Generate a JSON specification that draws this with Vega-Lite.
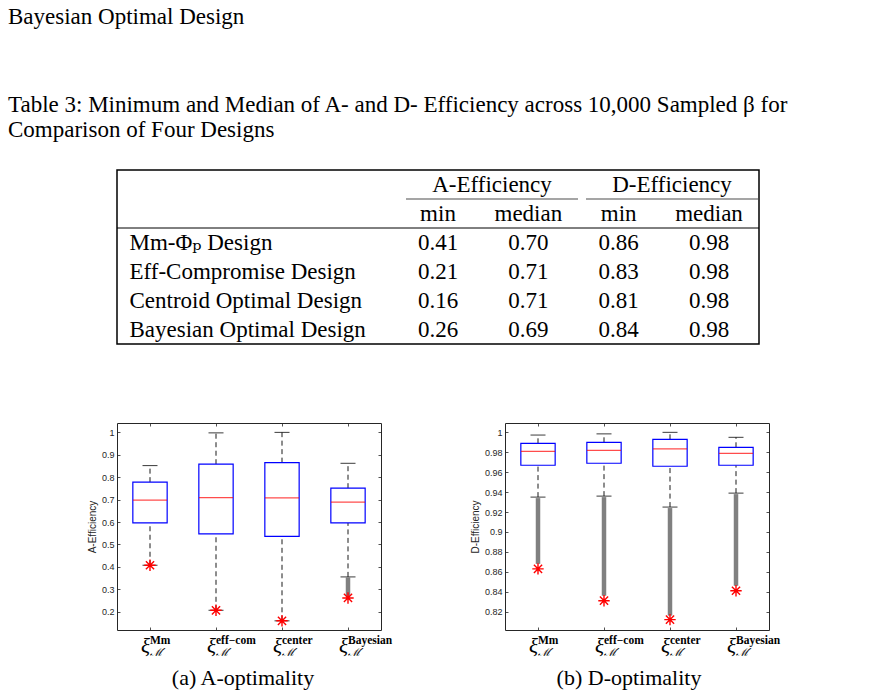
{
  "$schema": "https://vega.github.io/schema/vega-lite/v6.json",
  "padding": {"left": 7, "top": 5, "right": 7, "bottom": 0},
  "background": "white",
  "title": {
    "text": "Bayesian Optimal Design",
    "anchor": "start",
    "frame": "group",
    "dx": -109,
    "baseline": "bottom",
    "font": "Liberation Serif, DejaVu Serif, serif",
    "fontSize": 23,
    "fontWeight": "normal",
    "color": "black",
    "offset": 41
  },
  "datasets": {
    "table": [
      {"design": "Mm-Φₚ Design", "Amin": 0.41, "Amed": 0.70, "Dmin": 0.86, "Dmed": 0.98},
      {"design": "Eff-Compromise Design", "Amin": 0.21, "Amed": 0.71, "Dmin": 0.83, "Dmed": 0.98},
      {"design": "Centroid Optimal Design", "Amin": 0.16, "Amed": 0.71, "Dmin": 0.81, "Dmed": 0.98},
      {"design": "Bayesian Optimal Design", "Amin": 0.26, "Amed": 0.69, "Dmin": 0.84, "Dmed": 0.98}
    ],
    "tableColumns": [
      {"measure": "Amin", "label": "min"},
      {"measure": "Amed", "label": "median"},
      {"measure": "Dmin", "label": "min"},
      {"measure": "Dmed", "label": "median"}
    ],
    "tableGroups": [
      {"group": "A-Efficiency"},
      {"group": "D-Efficiency"}
    ],
    "aEff": [
      {"design": "Mm", "lo": 0.407, "q1": 0.596, "med": 0.698, "q3": 0.778, "hi": 0.852, "outLo": null, "outHi": null, "min": 0.407},
      {"design": "eff−com", "lo": 0.206, "q1": 0.547, "med": 0.709, "q3": 0.858, "hi": 0.998, "outLo": null, "outHi": null, "min": 0.206},
      {"design": "center", "lo": 0.159, "q1": 0.536, "med": 0.708, "q3": 0.865, "hi": 1.0, "outLo": null, "outHi": null, "min": 0.159},
      {"design": "Bayesian", "lo": 0.355, "q1": 0.596, "med": 0.689, "q3": 0.751, "hi": 0.862, "outLo": 0.27, "outHi": 0.352, "min": 0.261}
    ],
    "dEff": [
      {"design": "Mm", "lo": 0.935, "q1": 0.967, "med": 0.981, "q3": 0.989, "hi": 0.9973, "outLo": 0.868, "outHi": 0.934, "min": 0.863},
      {"design": "eff−com", "lo": 0.936, "q1": 0.969, "med": 0.982, "q3": 0.990, "hi": 0.9985, "outLo": 0.836, "outHi": 0.935, "min": 0.831},
      {"design": "center", "lo": 0.925, "q1": 0.966, "med": 0.9835, "q3": 0.993, "hi": 1.0, "outLo": 0.816, "outHi": 0.924, "min": 0.812},
      {"design": "Bayesian", "lo": 0.939, "q1": 0.967, "med": 0.979, "q3": 0.985, "hi": 0.995, "outLo": 0.846, "outHi": 0.938, "min": 0.841}
    ]
  },
  "spacing": 77,
  "vconcat": [
    {
      "width": 642,
      "height": 174,
      "view": {"stroke": "black", "strokeWidth": 1.5},
      "title": {
        "text": ["Table 3: Minimum and Median of A- and D- Efficiency across 10,000 Sampled β for", "Comparison of Four Designs"],
        "anchor": "start",
        "frame": "group",
        "dx": -109,
        "baseline": "bottom",
        "lineHeight": 25.5,
        "font": "Liberation Serif, DejaVu Serif, serif",
        "fontSize": 23,
        "fontWeight": "normal",
        "color": "black",
        "offset": 5
      },
      "layer": [
        {
          "data": {"name": "table"},
          "transform": [{"fold": ["Amin", "Amed", "Dmin", "Dmed"], "as": ["measure", "v"]}],
          "mark": {"type": "text", "baseline": "middle", "font": "Liberation Serif, DejaVu Serif, serif", "fontSize": 23, "color": "black"},
          "encoding": {
            "x": {"field": "measure", "type": "nominal", "scale": {"type": "point", "domain": ["Amin", "Amed", "Dmin", "Dmed"], "range": [321, 592], "padding": 0}, "axis": null},
            "y": {
              "field": "design", "type": "nominal",
              "scale": {"type": "point", "padding": 1, "domain": ["h1", "mid1", "h2", "mid2", "Mm-Φₚ Design", "g1", "Eff-Compromise Design", "g2", "Centroid Optimal Design", "g3", "Bayesian Optimal Design"]},
              "axis": {"orient": "left", "title": null, "domain": false, "ticks": false, "tickSize": 0, "minExtent": 0, "labelOverlap": false, "labelAlign": "left", "labelPadding": -12, "labelBaseline": "middle", "labelLimit": 400, "labelFont": "Liberation Serif, DejaVu Serif, serif", "labelFontSize": 23, "labelColor": "black", "labelExpr": "length(datum.value) < 5 ? '' : datum.value"}
            },
            "text": {"field": "v", "type": "quantitative", "format": ".2f"}
          }
        },
        {
          "data": {"name": "tableColumns"},
          "mark": {"type": "text", "baseline": "middle", "font": "Liberation Serif, DejaVu Serif, serif", "fontSize": 23, "color": "black"},
          "encoding": {
            "x": {"field": "measure", "type": "nominal", "scale": {"type": "point", "domain": ["Amin", "Amed", "Dmin", "Dmed"], "range": [321, 592], "padding": 0}, "axis": null},
            "y": {"datum": "h2", "type": "nominal"},
            "text": {"field": "label"}
          }
        },
        {
          "data": {"name": "tableGroups"},
          "mark": {"type": "text", "baseline": "middle", "font": "Liberation Serif, DejaVu Serif, serif", "fontSize": 23, "color": "black"},
          "encoding": {
            "x": {"field": "group", "type": "nominal", "scale": {"type": "point", "domain": ["A-Efficiency", "D-Efficiency"], "range": [375, 555], "padding": 0}, "axis": null},
            "y": {"datum": "h1", "type": "nominal"},
            "text": {"field": "group"}
          }
        },
        {
          "data": {"name": "tableGroups"},
          "mark": {"type": "tick", "orient": "horizontal", "size": 172, "thickness": 1, "color": "black"},
          "encoding": {
            "x": {"field": "group", "type": "nominal", "scale": {"type": "point", "domain": ["A-Efficiency", "D-Efficiency"], "range": [375, 555], "padding": 0}, "axis": null},
            "y": {"datum": "mid1", "type": "nominal"}
          }
        },
        {
          "data": {"values": [{}]},
          "mark": {"type": "rule", "color": "black", "strokeWidth": 1},
          "encoding": {
            "y": {"datum": "mid2", "type": "nominal"}
          }
        }
      ],
      "resolve": {"scale": {"x": "independent"}}
    },
    {
      "spacing": 62,
      "hconcat": [
        {
          "width": 264,
          "height": 207,
          "view": {"stroke": "#262626", "strokeWidth": 1},
          "title": {"text": "(a) A-optimality", "orient": "bottom", "anchor": "middle", "frame": "group", "font": "Liberation Serif, DejaVu Serif, serif", "fontSize": 22, "fontWeight": "normal", "color": "black", "offset": 11, "dx": -6},
          "data": {"name": "aEff"},
          "layer": [
            {
              "mark": {"type": "rule", "color": "#808080", "strokeWidth": 4.5},
              "encoding": {
                "x": {"field": "design", "type": "nominal", "scale": {"type": "band", "domain": ["Mm", "eff−com", "center", "Bayesian"], "paddingInner": 0, "paddingOuter": 0}, "axis": null},
                "y": {"field": "outLo", "type": "quantitative", "scale": {"domain": [0.118, 1.042], "nice": false, "zero": false}, "axis": null},
                "y2": {"field": "outHi"}
              }
            },
            {
              "mark": {"type": "rule", "color": "black", "strokeWidth": 0.9, "strokeDash": [5, 3.5]},
              "encoding": {
                "x": {"field": "design", "type": "nominal", "scale": {"type": "band", "domain": ["Mm", "eff−com", "center", "Bayesian"], "paddingInner": 0, "paddingOuter": 0},
                  "axis": {"orient": "bottom", "title": null, "domain": false, "ticks": false, "tickSize": 0, "minExtent": 0, "bandPosition": 0.5, "labelAngle": 0, "labelAlign": "left", "labelOverlap": false, "labelFont": "Liberation Serif, DejaVu Serif, serif", "labelFontWeight": "bold", "labelFontSize": 11.5, "labelColor": "black", "labelBaseline": "alphabetic", "labelPadding": 13, "labelDx": -4}},
                "y": {"field": "q3", "type": "quantitative", "scale": {"domain": [0.118, 1.042], "nice": false, "zero": false},
                  "axis": {"orient": "left", "title": null, "domain": false, "labels": false, "ticks": true, "tickSize": -3, "minExtent": 0, "tickColor": "#262626", "tickWidth": 0.8, "grid": false, "values": [0.2, 0.3, 0.4, 0.5, 0.6, 0.7, 0.8, 0.9, 1]}},
                "y2": {"field": "hi"}
              }
            },
            {
              "mark": {"type": "rule", "color": "black", "strokeWidth": 0.9, "strokeDash": [5, 3.5]},
              "encoding": {
                "x": {"field": "design", "type": "nominal", "scale": {"type": "band", "domain": ["Mm", "eff−com", "center", "Bayesian"], "paddingInner": 0, "paddingOuter": 0},
                  "axis": {"orient": "bottom", "title": null, "domain": false, "ticks": false, "tickSize": 0, "minExtent": 0, "bandPosition": 0.5, "labelAngle": 0, "labelAlign": "left", "labelOverlap": false, "labelExpr": "'ℳ′'", "labelFont": "DejaVu Serif, serif", "labelFontStyle": "italic", "labelFontSize": 11, "labelColor": "black", "labelBaseline": "alphabetic", "labelPadding": 25, "labelDx": -4}},
                "y": {"field": "lo", "type": "quantitative", "scale": {"domain": [0.118, 1.042], "nice": false, "zero": false},
                  "axis": {"orient": "right", "title": null, "domain": false, "labels": false, "ticks": true, "tickSize": -3, "minExtent": 15, "tickColor": "#262626", "tickWidth": 0.8, "grid": false, "values": [0.2, 0.3, 0.4, 0.5, 0.6, 0.7, 0.8, 0.9, 1]}},
                "y2": {"field": "q1"}
              }
            },
            {
              "mark": {"type": "tick", "orient": "horizontal", "size": 15, "thickness": 1.1, "color": "black"},
              "encoding": {
                "x": {"field": "design", "type": "nominal", "scale": {"type": "band", "domain": ["Mm", "eff−com", "center", "Bayesian"], "paddingInner": 0, "paddingOuter": 0},
                  "axis": {"orient": "bottom", "title": null, "domain": false, "labels": false, "ticks": true, "tickSize": -3, "minExtent": 0, "tickColor": "#262626", "tickWidth": 0.8, "bandPosition": 0.5}},
                "y": {"field": "hi", "type": "quantitative", "scale": {"domain": [0.118, 1.042], "nice": false, "zero": false}, "axis": null}
              }
            },
            {
              "mark": {"type": "tick", "orient": "horizontal", "size": 15, "thickness": 1.1, "color": "black"},
              "encoding": {
                "x": {"field": "design", "type": "nominal", "scale": {"type": "band", "domain": ["Mm", "eff−com", "center", "Bayesian"], "paddingInner": 0, "paddingOuter": 0},
                  "axis": {"orient": "top", "title": null, "domain": false, "labels": false, "ticks": true, "tickSize": -3, "minExtent": 0, "tickColor": "#262626", "tickWidth": 0.8, "bandPosition": 0.5}},
                "y": {"field": "lo", "type": "quantitative", "scale": {"domain": [0.118, 1.042], "nice": false, "zero": false}, "axis": null}
              }
            },
            {
              "mark": {"type": "bar", "width": {"band": 0.52}, "fill": "white", "stroke": "#0000ff", "strokeWidth": 1.2},
              "encoding": {
                "x": {"field": "design", "type": "nominal", "scale": {"type": "band", "domain": ["Mm", "eff−com", "center", "Bayesian"], "paddingInner": 0, "paddingOuter": 0},
                  "axis": {"orient": "bottom", "title": null, "domain": false, "ticks": false, "tickSize": 0, "minExtent": 0, "bandPosition": 0.5, "labelAngle": 0, "labelAlign": "right", "labelOverlap": false, "labelExpr": "'ξ'", "labelFont": "Liberation Serif, DejaVu Serif, serif", "labelFontStyle": "italic", "labelFontSize": 21, "labelColor": "black", "labelBaseline": "alphabetic", "labelPadding": 22, "labelDx": -4}},
                "y": {"field": "q1", "type": "quantitative", "scale": {"domain": [0.118, 1.042], "nice": false, "zero": false},
                  "axis": {"orient": "left", "title": "A-Efficiency", "domain": false, "ticks": false, "tickSize": 0, "minExtent": 0, "grid": false, "values": [0.2, 0.3, 0.4, 0.5, 0.6, 0.7, 0.8, 0.9, 1], "format": "~g", "labelFont": "Liberation Sans, Arial, sans-serif", "labelFontSize": 9, "labelColor": "#262626", "labelPadding": 3, "titleFont": "Liberation Sans, Arial, sans-serif", "titleFontSize": 10, "titleFontWeight": "normal", "titleColor": "#262626", "titlePadding": 4}},
                "y2": {"field": "q3"}
              }
            },
            {
              "mark": {"type": "tick", "orient": "horizontal", "size": 34, "thickness": 1.2, "color": "#ff0000"},
              "encoding": {
                "x": {"field": "design", "type": "nominal", "scale": {"type": "band", "domain": ["Mm", "eff−com", "center", "Bayesian"], "paddingInner": 0, "paddingOuter": 0}, "axis": null},
                "y": {"field": "med", "type": "quantitative", "scale": {"domain": [0.118, 1.042], "nice": false, "zero": false}, "axis": null}
              }
            },
            {
              "mark": {"type": "point", "shape": "M-1,0L1,0M0,-1L0,1M-0.72,-0.72L0.72,0.72M-0.72,0.72L0.72,-0.72", "size": 130, "filled": false, "stroke": "#ff0000", "strokeWidth": 1.4, "opacity": 1},
              "encoding": {
                "x": {"field": "design", "type": "nominal", "scale": {"type": "band", "domain": ["Mm", "eff−com", "center", "Bayesian"], "paddingInner": 0, "paddingOuter": 0}, "axis": null},
                "y": {"field": "min", "type": "quantitative", "scale": {"domain": [0.118, 1.042], "nice": false, "zero": false}, "axis": null}
              }
            }
          ],
          "resolve": {"axis": {"x": "independent", "y": "independent"}}
        },
        {
          "width": 264,
          "height": 207,
          "view": {"stroke": "#262626", "strokeWidth": 1},
          "title": {"text": "(b) D-optimality", "orient": "bottom", "anchor": "middle", "frame": "group", "font": "Liberation Serif, DejaVu Serif, serif", "fontSize": 22, "fontWeight": "normal", "color": "black", "offset": 11, "dx": -8},
          "data": {"name": "dEff"},
          "layer": [
            {
              "mark": {"type": "rule", "color": "#808080", "strokeWidth": 4.5},
              "encoding": {
                "x": {"field": "design", "type": "nominal", "scale": {"type": "band", "domain": ["Mm", "eff−com", "center", "Bayesian"], "paddingInner": 0, "paddingOuter": 0}, "axis": null},
                "y": {"field": "outLo", "type": "quantitative", "scale": {"domain": [0.8016, 1.0094], "nice": false, "zero": false}, "axis": null},
                "y2": {"field": "outHi"}
              }
            },
            {
              "mark": {"type": "rule", "color": "black", "strokeWidth": 0.9, "strokeDash": [5, 3.5]},
              "encoding": {
                "x": {"field": "design", "type": "nominal", "scale": {"type": "band", "domain": ["Mm", "eff−com", "center", "Bayesian"], "paddingInner": 0, "paddingOuter": 0},
                  "axis": {"orient": "bottom", "title": null, "domain": false, "ticks": false, "tickSize": 0, "minExtent": 0, "bandPosition": 0.5, "labelAngle": 0, "labelAlign": "left", "labelOverlap": false, "labelFont": "Liberation Serif, DejaVu Serif, serif", "labelFontWeight": "bold", "labelFontSize": 11.5, "labelColor": "black", "labelBaseline": "alphabetic", "labelPadding": 13, "labelDx": -4}},
                "y": {"field": "q3", "type": "quantitative", "scale": {"domain": [0.8016, 1.0094], "nice": false, "zero": false},
                  "axis": {"orient": "left", "title": null, "domain": false, "labels": false, "ticks": true, "tickSize": -3, "minExtent": 45, "tickColor": "#262626", "tickWidth": 0.8, "grid": false, "values": [0.82, 0.84, 0.86, 0.88, 0.9, 0.92, 0.94, 0.96, 0.98, 1]}},
                "y2": {"field": "hi"}
              }
            },
            {
              "mark": {"type": "rule", "color": "black", "strokeWidth": 0.9, "strokeDash": [5, 3.5]},
              "encoding": {
                "x": {"field": "design", "type": "nominal", "scale": {"type": "band", "domain": ["Mm", "eff−com", "center", "Bayesian"], "paddingInner": 0, "paddingOuter": 0},
                  "axis": {"orient": "bottom", "title": null, "domain": false, "ticks": false, "tickSize": 0, "minExtent": 0, "bandPosition": 0.5, "labelAngle": 0, "labelAlign": "left", "labelOverlap": false, "labelExpr": "'ℳ′'", "labelFont": "DejaVu Serif, serif", "labelFontStyle": "italic", "labelFontSize": 11, "labelColor": "black", "labelBaseline": "alphabetic", "labelPadding": 25, "labelDx": -4}},
                "y": {"field": "lo", "type": "quantitative", "scale": {"domain": [0.8016, 1.0094], "nice": false, "zero": false},
                  "axis": {"orient": "right", "title": null, "domain": false, "labels": false, "ticks": true, "tickSize": -3, "minExtent": 0, "tickColor": "#262626", "tickWidth": 0.8, "grid": false, "values": [0.82, 0.84, 0.86, 0.88, 0.9, 0.92, 0.94, 0.96, 0.98, 1]}},
                "y2": {"field": "q1"}
              }
            },
            {
              "mark": {"type": "tick", "orient": "horizontal", "size": 15, "thickness": 1.1, "color": "black"},
              "encoding": {
                "x": {"field": "design", "type": "nominal", "scale": {"type": "band", "domain": ["Mm", "eff−com", "center", "Bayesian"], "paddingInner": 0, "paddingOuter": 0},
                  "axis": {"orient": "bottom", "title": null, "domain": false, "labels": false, "ticks": true, "tickSize": -3, "minExtent": 0, "tickColor": "#262626", "tickWidth": 0.8, "bandPosition": 0.5}},
                "y": {"field": "hi", "type": "quantitative", "scale": {"domain": [0.8016, 1.0094], "nice": false, "zero": false}, "axis": null}
              }
            },
            {
              "mark": {"type": "tick", "orient": "horizontal", "size": 15, "thickness": 1.1, "color": "black"},
              "encoding": {
                "x": {"field": "design", "type": "nominal", "scale": {"type": "band", "domain": ["Mm", "eff−com", "center", "Bayesian"], "paddingInner": 0, "paddingOuter": 0},
                  "axis": {"orient": "top", "title": null, "domain": false, "labels": false, "ticks": true, "tickSize": -3, "minExtent": 0, "tickColor": "#262626", "tickWidth": 0.8, "bandPosition": 0.5}},
                "y": {"field": "lo", "type": "quantitative", "scale": {"domain": [0.8016, 1.0094], "nice": false, "zero": false}, "axis": null}
              }
            },
            {
              "mark": {"type": "bar", "width": {"band": 0.52}, "fill": "white", "stroke": "#0000ff", "strokeWidth": 1.2},
              "encoding": {
                "x": {"field": "design", "type": "nominal", "scale": {"type": "band", "domain": ["Mm", "eff−com", "center", "Bayesian"], "paddingInner": 0, "paddingOuter": 0},
                  "axis": {"orient": "bottom", "title": null, "domain": false, "ticks": false, "tickSize": 0, "minExtent": 0, "bandPosition": 0.5, "labelAngle": 0, "labelAlign": "right", "labelOverlap": false, "labelExpr": "'ξ'", "labelFont": "Liberation Serif, DejaVu Serif, serif", "labelFontStyle": "italic", "labelFontSize": 21, "labelColor": "black", "labelBaseline": "alphabetic", "labelPadding": 22, "labelDx": -4}},
                "y": {"field": "q1", "type": "quantitative", "scale": {"domain": [0.8016, 1.0094], "nice": false, "zero": false},
                  "axis": {"orient": "left", "title": "D-Efficiency", "domain": false, "ticks": false, "tickSize": 0, "minExtent": 0, "grid": false, "values": [0.82, 0.84, 0.86, 0.88, 0.9, 0.92, 0.94, 0.96, 0.98, 1], "format": "~g", "labelFont": "Liberation Sans, Arial, sans-serif", "labelFontSize": 9, "labelColor": "#262626", "labelPadding": 3, "titleFont": "Liberation Sans, Arial, sans-serif", "titleFontSize": 10, "titleFontWeight": "normal", "titleColor": "#262626", "titlePadding": 4}},
                "y2": {"field": "q3"}
              }
            },
            {
              "mark": {"type": "tick", "orient": "horizontal", "size": 34, "thickness": 1.2, "color": "#ff0000"},
              "encoding": {
                "x": {"field": "design", "type": "nominal", "scale": {"type": "band", "domain": ["Mm", "eff−com", "center", "Bayesian"], "paddingInner": 0, "paddingOuter": 0}, "axis": null},
                "y": {"field": "med", "type": "quantitative", "scale": {"domain": [0.8016, 1.0094], "nice": false, "zero": false}, "axis": null}
              }
            },
            {
              "mark": {"type": "point", "shape": "M-1,0L1,0M0,-1L0,1M-0.72,-0.72L0.72,0.72M-0.72,0.72L0.72,-0.72", "size": 130, "filled": false, "stroke": "#ff0000", "strokeWidth": 1.4, "opacity": 1},
              "encoding": {
                "x": {"field": "design", "type": "nominal", "scale": {"type": "band", "domain": ["Mm", "eff−com", "center", "Bayesian"], "paddingInner": 0, "paddingOuter": 0}, "axis": null},
                "y": {"field": "min", "type": "quantitative", "scale": {"domain": [0.8016, 1.0094], "nice": false, "zero": false}, "axis": null}
              }
            }
          ],
          "resolve": {"axis": {"x": "independent", "y": "independent"}}
        }
      ]
    }
  ],
  "config": {
    "view": {"stroke": null},
    "axis": {"grid": false}
  }
}
